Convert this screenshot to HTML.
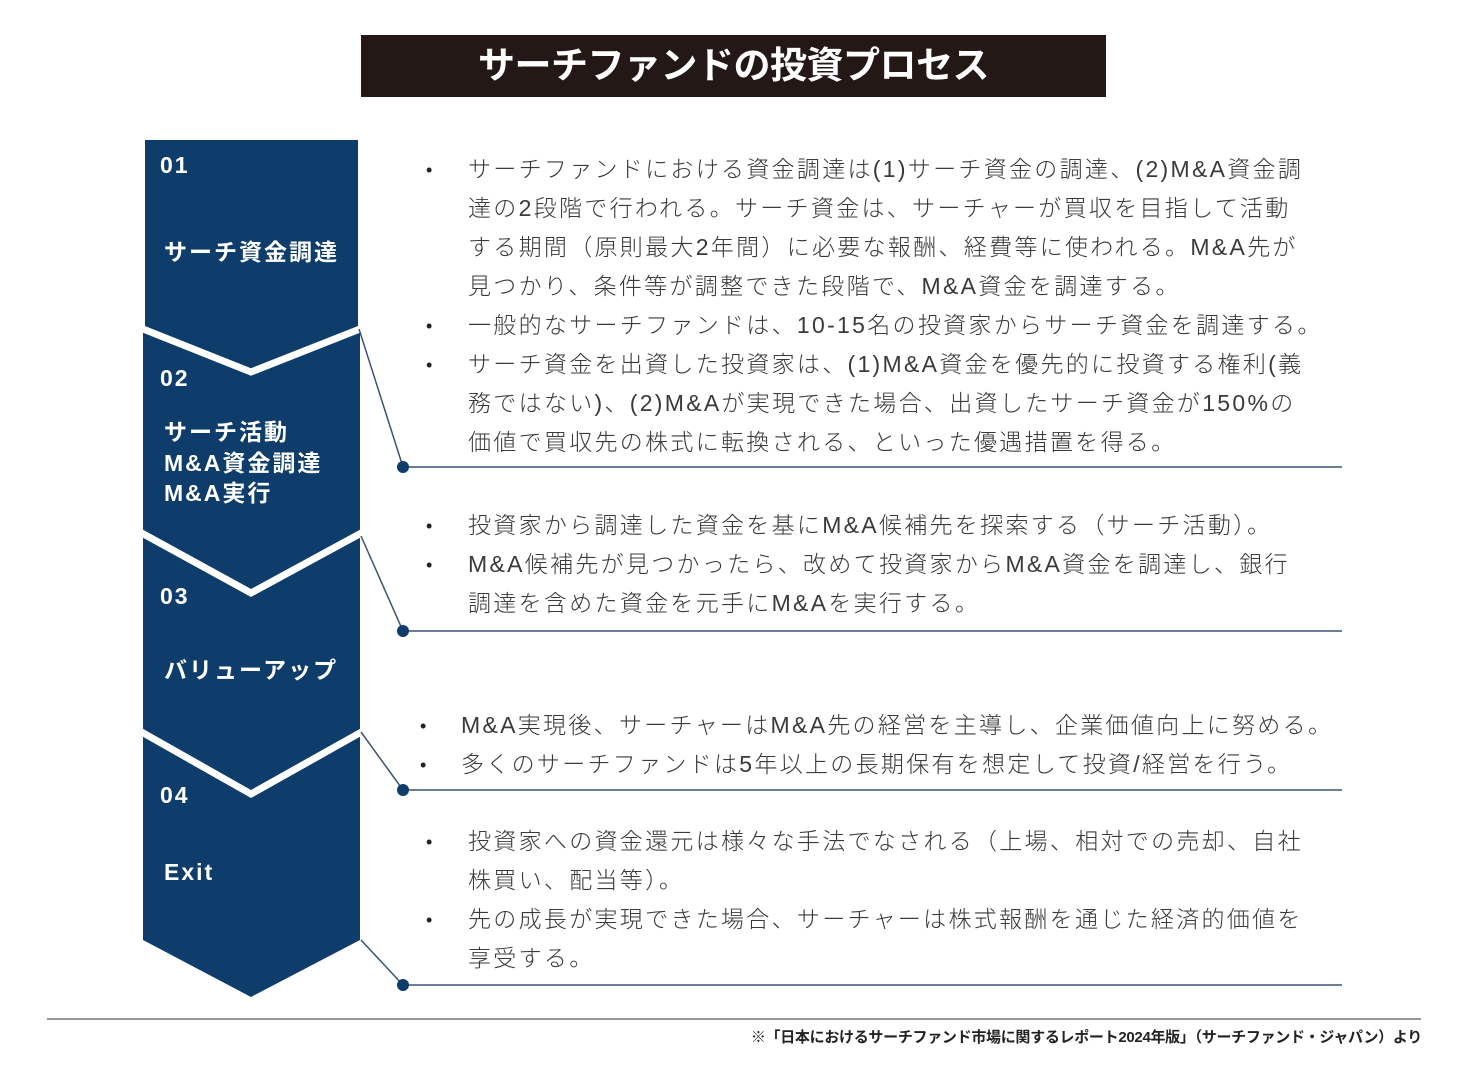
<!DOCTYPE html>
<html><head><meta charset="utf-8"><style>
body{margin:0;width:1468px;height:1076px;background:#fff;position:relative;overflow:hidden;font-family:"Liberation Sans","Noto Sans CJK JP",sans-serif;}
.t{position:absolute;font-size:23px;color:#3a3a3a;letter-spacing:2.3px;white-space:nowrap;line-height:30px;font-weight:300;}
.b{position:absolute;font-size:18px;color:#222;line-height:30px;}
.w{position:absolute;color:#fff;font-weight:bold;font-size:23px;white-space:nowrap;line-height:30px;letter-spacing:2px;}
</style></head><body>
<div style="position:absolute;left:361px;top:35px;width:745px;height:62px;background:#231815;color:#fff;font-weight:bold;font-size:37px;text-align:center;line-height:62px;letter-spacing:-0.5px;">サーチファンドの投資プロセス</div>
<svg width="1468" height="1076" style="position:absolute;left:0;top:0">
<polygon points="145,140 358,140 358,330 360,330 360,940 251,997 143,940 143,330 145,330" fill="#0e3d6b"/>
<g stroke="#fff" stroke-width="7" fill="none">
<polyline points="138,327 251,372 365,327"/>
<polyline points="138,531 251,593 365,531"/>
<polyline points="138,730 251,794 365,730"/>
</g>
<g stroke="#3c5472" stroke-width="1.5" fill="none">
<polyline points="359,329 403,467 1342,467"/>
<polyline points="361,536 403,631 1342,631"/>
<polyline points="361,732 403,790 1342,790"/>
<polyline points="361,940 403,985 1342,985"/>
</g>
<g fill="#0e3d6b"><circle cx="403" cy="467" r="6"/><circle cx="403" cy="631" r="6"/><circle cx="403" cy="790" r="6"/><circle cx="403" cy="985" r="6"/></g>
<line x1="47" y1="1019" x2="1421" y2="1019" stroke="#777" stroke-width="1.5"/>
</svg>
<div class="w" style="left:160px;top:150px">01</div>
<div class="w" style="left:164px;top:237px">サーチ資金調達</div>
<div class="w" style="left:160px;top:363px">02</div>
<div class="w" style="left:164px;top:417px">サーチ活動</div>
<div class="w" style="left:164px;top:448px">M&amp;A資金調達</div>
<div class="w" style="left:164px;top:478px">M&amp;A実行</div>
<div class="w" style="left:160px;top:581px">03</div>
<div class="w" style="left:164px;top:655px">バリューアップ</div>
<div class="w" style="left:160px;top:780px">04</div>
<div class="w" style="left:164px;top:857px">Exit</div>

<div class="b" style="left:426px;top:155px">•</div>
<div class="t" style="left:468px;top:154px">サーチファンドにおける資金調達は(1)サーチ資金の調達、(2)M&amp;A資金調</div>
<div class="t" style="left:468px;top:193px">達の2段階で行われる。サーチ資金は、サーチャーが買収を目指して活動</div>
<div class="t" style="left:468px;top:232px">する期間（原則最大2年間）に必要な報酬、経費等に使われる。M&amp;A先が</div>
<div class="t" style="left:468px;top:271px">見つかり、条件等が調整できた段階で、M&amp;A資金を調達する。</div>
<div class="b" style="left:426px;top:311px">•</div>
<div class="t" style="left:468px;top:310px">一般的なサーチファンドは、10-15名の投資家からサーチ資金を調達する。</div>
<div class="b" style="left:426px;top:350px">•</div>
<div class="t" style="left:468px;top:349px">サーチ資金を出資した投資家は、(1)M&amp;A資金を優先的に投資する権利(義</div>
<div class="t" style="left:468px;top:388px">務ではない)、(2)M&amp;Aが実現できた場合、出資したサーチ資金が150%の</div>
<div class="t" style="left:468px;top:427px">価値で買収先の株式に転換される、といった優遇措置を得る。</div>

<div class="b" style="left:426px;top:511px">•</div>
<div class="t" style="left:468px;top:510px">投資家から調達した資金を基にM&amp;A候補先を探索する（サーチ活動）。</div>
<div class="b" style="left:426px;top:550px">•</div>
<div class="t" style="left:468px;top:549px">M&amp;A候補先が見つかったら、改めて投資家からM&amp;A資金を調達し、銀行</div>
<div class="t" style="left:468px;top:588px">調達を含めた資金を元手にM&amp;Aを実行する。</div>

<div class="b" style="left:420px;top:711px">•</div>
<div class="t" style="left:461px;top:710px">M&amp;A実現後、サーチャーはM&amp;A先の経営を主導し、企業価値向上に努める。</div>
<div class="b" style="left:420px;top:750px">•</div>
<div class="t" style="left:461px;top:749px">多くのサーチファンドは5年以上の長期保有を想定して投資/経営を行う。</div>

<div class="b" style="left:426px;top:827px">•</div>
<div class="t" style="left:468px;top:826px">投資家への資金還元は様々な手法でなされる（上場、相対での売却、自社</div>
<div class="t" style="left:468px;top:865px">株買い、配当等）。</div>
<div class="b" style="left:426px;top:905px">•</div>
<div class="t" style="left:468px;top:904px">先の成長が実現できた場合、サーチャーは株式報酬を通じた経済的価値を</div>
<div class="t" style="left:468px;top:943px">享受する。</div>

<div style="position:absolute;right:46px;top:1026px;font-size:15px;font-weight:bold;color:#222;white-space:nowrap;letter-spacing:-0.3px;">※「日本におけるサーチファンド市場に関するレポート2024年版」（サーチファンド・ジャパン）より</div>
</body></html>
